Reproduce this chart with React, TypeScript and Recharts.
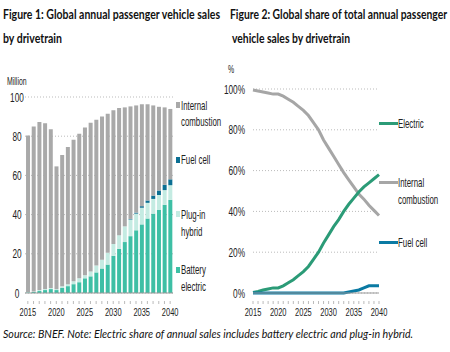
import React from "react";
import { BarChart, Bar, LineChart, Line, XAxis, YAxis, CartesianGrid } from "recharts";

const years = [2015, 2016, 2017, 2018, 2019, 2020, 2021, 2022, 2023, 2024, 2025, 2026, 2027, 2028, 2029, 2030, 2031, 2032, 2033, 2034, 2035, 2036, 2037, 2038, 2039, 2040];

// Figure 1, million vehicles
const batteryElectric = [0.3, 0.5, 1, 1.5, 2, 1.5, 2.5, 3.5, 4.5, 5.5, 7.5, 8.5, 10.5, 12.5, 14.5, 19, 22.5, 26, 29, 32, 35, 38, 40.5, 42.5, 45, 47.5];
const plugInHybrid = [0.2, 0.3, 0.5, 0.5, 0.5, 0.5, 1, 1, 1.5, 2, 1.5, 2.5, 3.5, 4.5, 6, 6, 7, 8, 8.5, 8.5, 8.5, 8, 7.5, 7.5, 7.5, 7.5];
const fuelCell = [0, 0, 0, 0, 0, 0, 0, 0, 0, 0, 0, 0, 0, 0, 0, 0, 0, 0, 0.3, 0.5, 0.8, 1.2, 1.7, 2.3, 2.7, 3];
const internalCombustion = [79.8, 84.1, 85.7, 84.6, 81, 62.6, 66.9, 70, 72.2, 73.8, 75.4, 75.9, 74.4, 73, 71, 68.2, 64.9, 60.7, 57.4, 54.7, 52, 49.1, 46, 42.7, 39.5, 35.9];

// Figure 2, share of sales (%)
const electricShare = [0.3, 0.8, 1.5, 2, 2.5, 2.5, 3.5, 5, 6.5, 8.5, 10.5, 13, 16.5, 20, 24.5, 28.5, 32.5, 36, 40, 43.5, 46.5, 49.5, 52, 54, 56, 58];
const iceShare = [99.5, 99, 98.5, 98, 97.5, 97.5, 96.5, 95, 93.5, 91.5, 89.5, 87, 83.5, 80, 75, 71, 67, 63, 59, 55.5, 52, 48.5, 46, 43, 40.5, 38];
const fuelCellShare = [0, 0, 0, 0, 0, 0, 0, 0, 0, 0, 0, 0, 0, 0, 0, 0, 0, 0, 0, 0.5, 1, 1.5, 2.5, 3.5, 3.5, 3.5];

const salesTicks = [0, 20, 40, 60, 80, 100];
const shareTicks = [0, 20, 40, 60, 80, 100];
const yearLabels = [2015, 2020, 2025, 2030, 2035, 2040];

const salesData = years.map((y, i) => ({
  year: y,
  bev: batteryElectric[i],
  phev: plugInHybrid[i],
  fc: fuelCell[i],
  ice: internalCombustion[i],
}));

const shareData = years.map((y, i) => ({
  year: y,
  electric: electricShare[i],
  ice: iceShare[i],
  fc: fuelCellShare[i],
}));

const C = {
  ice: "#a9a9a9",
  fc: "#0b6f93",
  phev: "#c4ebe2",
  bev: "#3ebfa5",
  electric: "#2b9b77",
  iceLine: "#a6a6a6",
  fcLine: "#0a7aa3",
  text: "#222",
};

const tickFont = "'Liberation Sans', Arial, sans-serif";
const titleFont = "Lato, 'Open Sans', sans-serif";

const YearTick = (props: any) => {
  const { x, y, payload } = props;
  const show = yearLabels.includes(payload.value);
  return (
    <g>
      <line x1={x} x2={x} y1={y} y2={y + 3} stroke="#bbb" />
      {show && (
        <text
          transform={`translate(${x},${y + 15}) scale(0.68,1)`}
          textAnchor="middle"
          fontSize={11}
          fill={C.text}
          fontFamily={tickFont}
        >
          {payload.value}
        </text>
      )}
    </g>
  );
};

const ValueTick = (props: any) => {
  const { x, y, payload, suffix, anchor } = props;
  return (
    <text
      transform={`translate(${x},${y + 4.5}) scale(0.66,1)`}
      textAnchor={anchor || "end"}
      fontSize={12.5}
      fill={C.text}
      fontFamily={tickFont}
    >
      {payload.value}
      {suffix || ""}
    </text>
  );
};

// condensed label drawn in the overlay svg
const Label = ({ x, y, children, size = 12.5 }: any) => (
  <text transform={`translate(${x},${y}) scale(0.63,1)`} fontSize={size} fontFamily={tickFont} fill={C.text}>
    {children}
  </text>
);

// squeezed text: scale s roughly, textLength makes the width exact
const FitText = ({ x, y, w, s, children, italic, bold, size }: any) => (
  <text
    transform={`translate(${x},${y}) scale(${s},1)`}
    textLength={w / s}
    lengthAdjust="spacingAndGlyphs"
    fontFamily={titleFont}
    fontWeight={bold ? 700 : 400}
    fontStyle={italic ? "italic" : "normal"}
    fontSize={size}
    fill="#111"
  >
    {children}
  </text>
);

export default function App() {
  return (
    <div style={{ position: "absolute", left: 0, top: 0, width: 450, height: 352, background: "#fff", overflow: "hidden" }}>
      <div style={{ position: "absolute", left: 0, top: 80 }}>
        <BarChart
          width={180}
          height={240}
          data={salesData}
          margin={{ top: 17, right: 7, bottom: 7, left: 3 }}
          barCategoryGap="18%"
        >
          <CartesianGrid vertical={false} stroke="#bbb" strokeDasharray="1 2" />
          <XAxis dataKey="year" interval={0} tick={<YearTick />} tickLine={false} axisLine={{ stroke: "#999" }} height={20} />
          <YAxis
            domain={[0, 100]}
            ticks={salesTicks}
            width={22}
            tickLine={false}
            axisLine={false}
            tick={<ValueTick anchor="middle" />}
            dx={-10}
          />
          <Bar dataKey="bev" stackId="a" fill={C.bev} isAnimationActive={false} />
          <Bar dataKey="phev" stackId="a" fill={C.phev} isAnimationActive={false} />
          <Bar dataKey="fc" stackId="a" fill={C.fc} isAnimationActive={false} />
          <Bar dataKey="ice" stackId="a" fill={C.ice} isAnimationActive={false} />
        </BarChart>
      </div>

      <div style={{ position: "absolute", left: 220, top: 60 }}>
        <LineChart width={230} height={258} data={shareData} margin={{ top: 29, right: 71, bottom: 5, left: 3 }}>
          <CartesianGrid vertical={false} stroke="#bbb" strokeDasharray="1 2" />
          <XAxis
            dataKey="year"
            type="number"
            domain={[2015, 2040]}
            ticks={years}
            interval={0}
            tick={<YearTick />}
            tickLine={false}
            axisLine={{ stroke: "#999" }}
            height={20}
          />
          <YAxis
            domain={[0, 100]}
            ticks={shareTicks}
            width={30}
            tickLine={false}
            axisLine={false}
            tick={<ValueTick suffix="%" />}
          />
          <Line dataKey="ice" stroke={C.iceLine} strokeWidth={3} dot={false} isAnimationActive={false} />
          <Line dataKey="electric" stroke={C.electric} strokeWidth={3} dot={false} isAnimationActive={false} />
          <Line dataKey="fc" stroke={C.fcLine} strokeWidth={3} dot={false} isAnimationActive={false} />
        </LineChart>
      </div>

      <svg width={450} height={352} style={{ position: "absolute", left: 0, top: 0, pointerEvents: "none" }}>
        <FitText x={3} y={19} w={217} s={0.8} size={13} bold>Figure 1: Global annual passenger vehicle sales</FitText>
        <FitText x={3} y={43} w={59} s={0.78} size={13} bold>by drivetrain</FitText>
        <FitText x={230} y={19} w={217} s={0.78} size={13} bold>Figure 2: Global share of total annual passenger</FitText>
        <FitText x={232} y={43} w={118} s={0.76} size={13} bold>vehicle sales by drivetrain</FitText>

        <Label x={7} y={85} size={11}>Million</Label>
        <Label x={228} y={73} size={11}>%</Label>

        {/* Figure 1 legend */}
        <rect x={176} y={102} width={4} height={6} fill={C.ice} />
        <Label x={181} y={110}>Internal</Label>
        <Label x={181} y={126}>combustion</Label>
        <rect x={176} y={157} width={4} height={6} fill={C.fc} />
        <Label x={181} y={164}>Fuel cell</Label>
        <rect x={176} y={211} width={4} height={6} fill={C.phev} />
        <Label x={181} y={219}>Plug-in</Label>
        <Label x={181} y={236}>hybrid</Label>
        <rect x={176} y={267} width={4} height={6} fill={C.bev} />
        <Label x={181} y={274}>Battery</Label>
        <Label x={181} y={291}>electric</Label>

        {/* Figure 2 legend */}
        <rect x={379} y={122} width={19} height={3} fill={C.electric} />
        <Label x={398} y={128}>Electric</Label>
        <rect x={379} y={181} width={19} height={3} fill={C.iceLine} />
        <Label x={398} y={187}>Internal</Label>
        <Label x={398} y={204}>combustion</Label>
        <rect x={379} y={241} width={19} height={3} fill={C.fcLine} />
        <Label x={398} y={247}>Fuel cell</Label>

        <FitText x={3} y={338} w={410} s={0.88} size={12} italic>
          Source: BNEF. Note: Electric share of annual sales includes battery electric and plug-in hybrid.
        </FitText>
      </svg>
    </div>
  );
}
